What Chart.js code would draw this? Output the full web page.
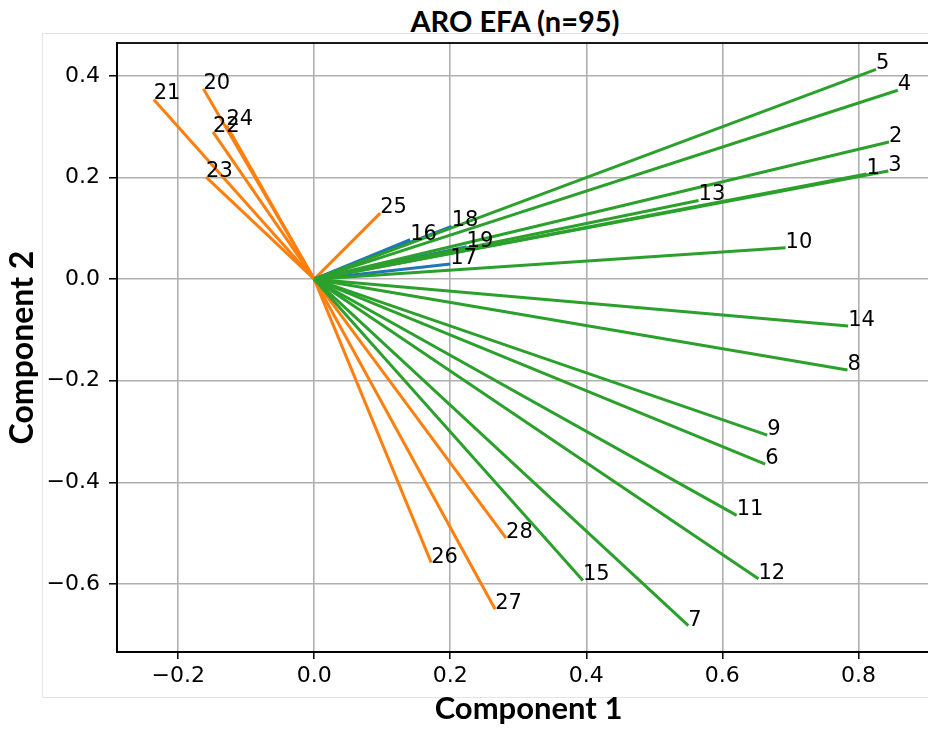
<!DOCTYPE html>
<html lang="en">
<head>
  <meta charset="UTF-8">
  <title>ARO EFA (n=95)</title>
  <script src="https://cdn.jsdelivr.net/npm/chart.js"></script>
  <style>
    body {
      margin: 0;
      background: #ffffff;
      overflow: hidden;
      width: 928px;
      height: 729px;
      position: relative;
    }

    .frame {
      position: absolute;
      left: 42px;
      top: 33px;
      width: 950px;
      height: 663px;
      border: 1px solid #e4e4e4;
    }

    .title {
      position: absolute;
      left: 515px;
      top: 3px;
      transform: translateX(-50%);
      font-family: 'Lato', sans-serif;
      font-weight: bold;
      font-size: 29px;
      white-space: nowrap;
      color: #000;
    }

    .wrap {
      position: absolute;
      left: 0;
      top: 0;
    }
  </style>
</head>
<body>
  <div class="frame"></div>
  <div class="title">ARO EFA (n=95)</div>
  <div class="wrap">
    <canvas id="chart" width="945" height="729"></canvas>
  </div>

  <script>
    // Item numbers and their loadings on the two components
    const itemLabels = ['1', '2', '3', '4', '5', '6', '7', '8', '9', '10', '11', '12', '13', '14', '15',
      '16', '17', '18', '19', '20', '21', '22', '23', '24', '25', '26', '27', '28'];
    const comp1 = [0.812, 0.845, 0.844, 0.858, 0.826, 0.663, 0.550, 0.784, 0.666, 0.693, 0.621, 0.653, 0.565, 0.785, 0.395,
      0.141, 0.200, 0.202, 0.224, -0.163, -0.236, -0.149, -0.159, -0.129, 0.097, 0.172, 0.266, 0.282];
    const comp2 = [0.207, 0.270, 0.213, 0.372, 0.413, -0.364, -0.682, -0.179, -0.307, 0.062, -0.465, -0.590, 0.155, -0.092, -0.593,
      0.078, 0.030, 0.104, 0.064, 0.375, 0.354, 0.290, 0.201, 0.303, 0.130, -0.558, -0.650, -0.510];
    // factor each item was assigned to
    const factorOf = [1, 1, 1, 1, 1, 1, 1, 1, 1, 1, 1, 1, 1, 1, 1,
      3, 3, 3, 3, 2, 2, 2, 2, 2, 2, 2, 2, 2];

    // tick labels
    const xTicks = [-0.2, 0.0, 0.2, 0.4, 0.6, 0.8];
    const yTicks = [-0.6, -0.4, -0.2, 0.0, 0.2, 0.4];
    const xRange = [-0.29, 0.92];
    const yRange = [-0.734, 0.465];

    const factorColors = { 1: '#2ca02c', 2: '#ff7f0e', 3: '#1f77b4' };

    const datasets = itemLabels.map((lab, i) => ({
      label: lab,
      data: [{ x: 0, y: 0 }, { x: comp1[i], y: comp2[i] }],
      borderColor: factorColors[factorOf[i]],
      borderWidth: 3,
      pointRadius: 0,
      fill: false
    }));

    const fmt = v => v.toFixed(1).replace('-', '\u2212');

    // text at the end of every arrow + top spine
    const endLabels = {
      id: 'endLabels',
      afterDatasetsDraw(chart) {
        const ctx = chart.ctx;
        ctx.save();
        ctx.font = '21px "DejaVu Sans"';
        ctx.fillStyle = '#000';
        ctx.textAlign = 'left';
        ctx.textBaseline = 'alphabetic';
        chart.data.datasets.forEach((ds, i) => {
          const pt = chart.getDatasetMeta(i).data[1];
          ctx.fillText(ds.label, pt.x, pt.y);
        });
        const a = chart.chartArea;
        ctx.strokeStyle = '#000';
        ctx.lineWidth = 1.8;
        ctx.strokeRect(a.left, a.top, a.right - a.left, a.bottom - a.top);
        ctx.restore();
      }
    };

    new Chart(document.getElementById('chart'), {
      type: 'line',
      data: { datasets: datasets },
      options: {
        responsive: false,
        animation: false,
        layout: { padding: { top: 43, right: 5, left: 0, bottom: 0 } },
        plugins: {
          legend: { display: false },
          tooltip: { enabled: false }
        },
        scales: {
          x: {
            type: 'linear',
            min: xRange[0],
            max: xRange[1],
            afterBuildTicks: s => { s.ticks = xTicks.map(v => ({ value: v })); },
            afterFit: s => { s.height = 77; },
            grid: { color: '#b0b0b0', lineWidth: 1.6, tickColor: '#000', tickWidth: 1.5, tickLength: 7 },
            border: { color: '#000', width: 1.8 },
            ticks: {
              color: '#000',
              font: { family: 'DejaVu Sans', size: 22 },
              padding: 4,
              maxRotation: 0,
              callback: v => fmt(v)
            },
            title: {
              display: true,
              text: 'Component 1',
              color: '#000',
              font: { family: 'Lato', weight: 'bold', size: 31 },
              padding: { top: 0, bottom: 1 }
            }
          },
          y: {
            type: 'linear',
            min: yRange[0],
            max: yRange[1],
            afterBuildTicks: s => { s.ticks = yTicks.map(v => ({ value: v })); },
            afterFit: s => { s.width = 117; },
            grid: { color: '#b0b0b0', lineWidth: 1.6, tickColor: '#000', tickWidth: 1.5, tickLength: 8 },
            border: { color: '#000', width: 1.8 },
            ticks: {
              color: '#000',
              font: { family: 'DejaVu Sans', size: 22 },
              padding: 9,
              callback: v => fmt(v)
            },
            title: {
              display: true,
              text: 'Component 2',
              color: '#000',
              font: { family: 'Lato', weight: 'bold', size: 32 },
              padding: { top: 3, bottom: 4 }
            }
          }
        }
      },
      plugins: [endLabels]
    });
  </script>
</body>
</html>
